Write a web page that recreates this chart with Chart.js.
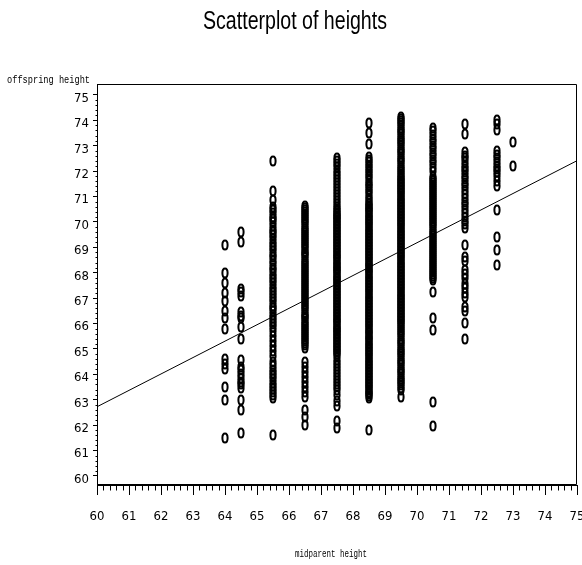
<!DOCTYPE html>
<html>
<head>
<meta charset="utf-8">
<title>Scatterplot of heights</title>
<script src="https://cdn.jsdelivr.net/npm/chart.js@4.4.1/dist/chart.umd.min.js"></script>
<style>
  html, body { margin: 0; padding: 0; background: #fff; }
  #chart { display: block; }
</style>
</head>
<body>
<canvas id="chart" width="582" height="565"></canvas>
<script>
// Midparent height levels (x) and the offspring heights (y) observed at each level.
const midparentLevels = [64, 64.5, 65.5, 66.5, 67.5, 68.5, 69.5, 70.5, 71.5, 72.5, 73];

const offspringAt64 = [69.1, 68.0, 67.6, 67.2, 66.9, 66.5, 66.2, 65.8, 64.6, 64.4, 64.2, 63.5, 63.0, 61.5];

const offspringAt64_5 = [69.6, 69.2, 67.35, 67.25, 67.1, 66.45, 66.3, 66.2, 65.85, 65.4, 64.55, 64.3, 64.15,
  64.0, 63.85, 63.7, 63.6, 63.45, 63.0, 62.6, 61.7];

const offspringAt65_5 = [72.4, 71.2, 70.85, 70.6, 70.48, 70.35, 70.2, 70.12, 69.98, 69.85, 69.7, 69.62, 69.5,
  69.36, 69.2, 69.1, 68.97, 68.85, 68.7, 68.6, 68.46, 68.33, 68.2, 68.1, 67.95, 67.82, 67.7, 67.6, 67.45,
  67.33, 67.2, 67.08, 66.97, 66.85, 66.7, 66.6, 66.48, 66.35, 66.2, 66.1, 65.96, 65.85, 65.7, 65.5, 65.3,
  65.1, 64.9, 64.7, 64.5, 64.32, 64.18, 64.05, 63.92, 63.8, 63.66, 63.55, 63.42, 63.3, 63.18, 63.05, 61.6];

const offspringAt66_5 = [70.62, 70.55, 70.46, 70.4, 70.31, 70.22, 70.15, 70.06, 69.98, 69.9, 69.81, 69.74,
  69.65, 69.57, 69.5, 69.41, 69.33, 69.25, 69.16, 69.08, 69.0, 68.92, 68.83, 68.76, 68.68, 68.6, 68.51,
  68.43, 68.35, 68.27, 68.2, 68.11, 68.03, 67.95, 67.87, 67.8, 67.71, 67.63, 67.55, 67.47, 67.4, 67.31,
  67.23, 67.15, 67.07, 67.0, 66.91, 66.83, 66.75, 66.67, 66.6, 66.52, 66.43, 66.35, 66.27, 66.2, 66.11,
  66.03, 65.95, 65.87, 65.8, 65.71, 65.63, 65.55, 65.47, 65.4, 65.31, 65.23, 65.15, 65.05,
  64.5, 64.3, 64.1, 63.9, 63.7, 63.5, 63.3, 63.1, 62.6, 62.3, 62.0];

const offspringAt67_5 = [72.52, 72.4, 72.28, 72.15, 72.0, 71.9, 71.78, 71.66, 71.52, 71.4, 71.3, 71.18,
  71.05, 70.94, 70.82, 70.7, 70.6, 70.5,
  70.43, 70.37, 70.31, 70.25, 70.2, 70.14, 70.08, 70.02, 69.96, 69.9, 69.84, 69.79, 69.73, 69.67, 69.61,
  69.55, 69.49, 69.43, 69.38, 69.32, 69.26, 69.2, 69.14, 69.08, 69.02, 68.97, 68.91, 68.85, 68.79, 68.73,
  68.67, 68.61, 68.56, 68.5, 68.44, 68.38, 68.32, 68.26, 68.2, 68.15, 68.09, 68.03, 67.97, 67.91, 67.85,
  67.79, 67.74, 67.68, 67.62, 67.56, 67.5, 67.44, 67.38, 67.33, 67.27, 67.21, 67.15, 67.09, 67.03, 66.97,
  66.92, 66.86, 66.8, 66.74, 66.68, 66.62, 66.56, 66.51, 66.45, 66.39, 66.33, 66.27, 66.21, 66.15, 66.1,
  66.04, 65.98, 65.92, 65.86, 65.8, 65.74, 65.69, 65.63, 65.57, 65.51, 65.45, 65.39, 65.33, 65.28, 65.22,
  65.16, 65.1, 65.04, 64.98, 64.92, 64.87, 64.81,
  64.7, 64.58, 64.45, 64.33, 64.2, 64.1, 63.97, 63.85, 63.72, 63.6, 63.5, 63.4,
  63.2, 62.95, 62.75, 62.15, 61.9];

const offspringAt68_5 = [73.9, 73.5, 73.08,
  72.55, 72.45, 72.36, 72.25, 72.15, 72.06, 71.95, 71.86, 71.75, 71.66, 71.55, 71.45, 71.36, 71.25, 71.16,
  71.05, 70.96, 70.86, 70.76,
  70.7, 70.64, 70.58, 70.52, 70.46, 70.41, 70.34, 70.28, 70.22, 70.17, 70.1, 70.04, 69.98, 69.93, 69.86,
  69.8, 69.74, 69.69, 69.62, 69.56, 69.5, 69.45, 69.38, 69.32, 69.26, 69.21, 69.14, 69.08, 69.02, 68.97,
  68.9, 68.84, 68.78, 68.73, 68.66, 68.6, 68.54, 68.49, 68.42, 68.36, 68.3, 68.25, 68.18, 68.12, 68.06,
  68.01, 67.94, 67.88, 67.82, 67.77, 67.7, 67.64, 67.58, 67.53, 67.46, 67.4, 67.34, 67.29, 67.22, 67.16,
  67.1, 67.05, 66.98, 66.92, 66.86, 66.81, 66.74, 66.68, 66.62, 66.57, 66.5, 66.44, 66.38, 66.33, 66.26,
  66.2, 66.14, 66.09, 66.02, 65.96, 65.9, 65.85, 65.78, 65.72, 65.66, 65.61, 65.54, 65.48, 65.42, 65.37,
  65.3, 65.24, 65.18, 65.13, 65.06, 65.0, 64.94, 64.89, 64.82, 64.76, 64.7, 64.65, 64.58, 64.52, 64.46,
  64.41, 64.34, 64.28, 64.22, 64.17, 64.1, 64.04, 63.98, 63.93, 63.86, 63.8, 63.74, 63.69, 63.62, 63.56,
  63.5, 63.45, 63.38, 63.32, 63.26, 63.21, 63.14, 63.08,
  61.8];

const offspringAt69_5 = [74.15, 74.06, 73.97, 73.88, 73.8, 73.71, 73.62, 73.53, 73.45, 73.36, 73.27, 73.18,
  73.1, 73.01, 72.92, 72.83, 72.75, 72.66, 72.57, 72.48, 72.4, 72.31, 72.22, 72.13, 72.05, 71.96, 71.87,
  71.8, 71.74, 71.68, 71.62, 71.56, 71.5, 71.44, 71.38, 71.32, 71.26, 71.2, 71.14, 71.08, 71.02, 70.96,
  70.9, 70.84, 70.78, 70.72, 70.66, 70.6, 70.54, 70.48, 70.42, 70.36, 70.3, 70.24, 70.18, 70.12, 70.06,
  70.0, 69.94, 69.88, 69.82, 69.76, 69.7, 69.64, 69.58, 69.52, 69.46, 69.4, 69.34, 69.28, 69.22, 69.16,
  69.1, 69.04, 68.98, 68.92, 68.86, 68.8, 68.74, 68.68, 68.62, 68.56, 68.5, 68.44, 68.38, 68.32, 68.26,
  68.2, 68.14, 68.08, 68.02, 67.96, 67.9, 67.84, 67.78, 67.72, 67.66, 67.6, 67.54, 67.48, 67.42, 67.36,
  67.3, 67.24, 67.18, 67.12, 67.06, 67.0, 66.94, 66.88, 66.82, 66.76, 66.7, 66.64, 66.58, 66.52, 66.46,
  66.4, 66.34, 66.28, 66.22, 66.16, 66.1, 66.04, 65.98, 65.92,
  65.84, 65.75, 65.66, 65.57, 65.49, 65.4, 65.31, 65.22, 65.14, 65.05, 64.96, 64.87, 64.79, 64.7, 64.61,
  64.52, 64.44, 64.35, 64.26, 64.17, 64.09, 64.0, 63.91, 63.82, 63.74, 63.65, 63.56, 63.47, 63.4,
  63.1];

const offspringAt70_5 = [73.7, 73.56, 73.42, 73.28, 73.14, 73.0, 72.86, 72.72, 72.58, 72.44, 72.3, 72.16, 72.02,
  71.78, 71.7, 71.62, 71.54, 71.46, 71.38, 71.3, 71.22, 71.14, 71.06, 70.98, 70.9, 70.82, 70.74, 70.66,
  70.58, 70.5, 70.42, 70.34, 70.26, 70.18, 70.1, 70.02, 69.94, 69.86, 69.78, 69.7, 69.62, 69.54, 69.46,
  69.38, 69.3, 69.22, 69.14, 69.06, 68.98, 68.9, 68.82, 68.74, 68.66, 68.58, 68.5, 68.42, 68.34, 68.26,
  68.18, 68.1, 68.02, 67.94, 67.86, 67.78, 67.7,
  67.25, 66.2, 65.75, 62.9, 61.95];

const offspringAt71_5 = [73.85, 73.45,
  72.75, 72.6, 72.5, 72.35, 72.2, 72.1, 71.95, 71.8, 71.7, 71.55, 71.4, 71.25, 71.1, 70.95, 70.8, 70.65,
  70.5, 70.35, 70.2, 70.05, 69.9, 69.75,
  69.1,
  68.6, 68.45, 68.1, 67.95, 67.8, 67.55, 67.4, 67.2, 67.05, 66.65, 66.5,
  66.0, 65.4];

const offspringAt72_5 = [74.0, 73.85, 73.6, 72.8, 72.65, 72.5, 72.35, 72.2, 72.1, 71.95, 71.8, 71.6, 71.4,
  70.45, 69.4, 68.9, 68.3];

const offspringAt73 = [73.15, 72.2];

// Least-squares fit of offspring height on midparent height, given at the axis ends.
const fitLineX = [60, 75];
const fitLineY = [62.72, 72.41];

// Axis tick values.
const xTickValues = [60, 61, 62, 63, 64, 65, 66, 67, 68, 69, 70, 71, 72, 73, 74, 75];
const yTickValues = [60, 61, 62, 63, 64, 65, 66, 67, 68, 69, 70, 71, 72, 73, 74, 75];

const offspringColumns = [offspringAt64, offspringAt64_5, offspringAt65_5, offspringAt66_5, offspringAt67_5,
  offspringAt68_5, offspringAt69_5, offspringAt70_5, offspringAt71_5, offspringAt72_5, offspringAt73];

// Hollow oval marker, like a plotted letter "O".
function makeOvalMarker() {
  const c = document.createElement('canvas');
  c.width = 10; c.height = 14;
  const g = c.getContext('2d');
  g.strokeStyle = '#000';
  g.lineWidth = 2;
  g.beginPath();
  g.ellipse(5, 7, 2.6, 4.5, 0, 0, Math.PI * 2);
  g.stroke();
  return c;
}
const ovalMarker = makeOvalMarker();

const points = [];
midparentLevels.forEach((x, i) => {
  offspringColumns[i].forEach(y => points.push({ x: x, y: y }));
});

const TICK_FONT = { family: '"Liberation Sans Narrow", "DejaVu Sans Condensed", "Liberation Sans", sans-serif', size: 13 };

// Markers are stamped without resampling so they stay crisp.
const crispMarkers = {
  id: 'crispMarkers',
  beforeDatasetsDraw(chart) { chart.ctx.save(); chart.ctx.imageSmoothingEnabled = false; },
  afterDatasetsDraw(chart) { chart.ctx.restore(); }
};

// Frame, minor ticks, title and axis captions.
const decorations = {
  id: 'decorations',
  afterDraw(chart) {
    const ctx = chart.ctx;
    const a = chart.chartArea;
    const xs = chart.scales.x, ys = chart.scales.y;
    ctx.save();
    ctx.strokeStyle = '#000';
    ctx.lineWidth = 1;
    // plot frame
    const L = Math.round(a.left) + 0.5, R = Math.round(a.right) - 0.5;
    const T = Math.round(a.top) + 0.5, B = Math.round(a.bottom) - 0.5;
    ctx.beginPath();
    ctx.moveTo(L, B); ctx.lineTo(L, T); ctx.lineTo(R, T); ctx.lineTo(R, B); ctx.lineTo(L, B);
    ctx.stroke();
    // minor ticks: four between each labelled value
    ctx.beginPath();
    for (let i = 0; i <= 75; i++) {
      if (i % 5 === 0) continue;
      const v = 60 + i / 5;
      const px = Math.round(xs.getPixelForValue(v)) + 0.5;
      ctx.moveTo(px, B); ctx.lineTo(px, B + 6);
      const py = Math.round(ys.getPixelForValue(v)) + 0.5;
      if (py > a.top && py < a.bottom) { ctx.moveTo(L, py); ctx.lineTo(L - 2, py); }
    }
    ctx.stroke();

    ctx.fillStyle = '#000';
    // title, set in a narrow face
    ctx.font = '25px "Liberation Sans Narrow", "Liberation Sans", Arial, sans-serif';
    ctx.textBaseline = 'alphabetic';
    ctx.textAlign = 'left';
    const title = 'Scatterplot of heights';
    let w = ctx.measureText(title).width;
    ctx.save();
    ctx.translate(203, 29);
    ctx.scale(184 / w, 1);
    ctx.fillText(title, 0, 0);
    ctx.restore();

    // axis captions in a typewriter face
    ctx.font = '11px "Liberation Mono", "DejaVu Sans Mono", monospace';
    const yCap = 'offspring height';
    w = ctx.measureText(yCap).width;
    ctx.save();
    ctx.translate(7, 83);
    ctx.scale(83 / w, 1);
    ctx.fillText(yCap, 0, 0);
    ctx.restore();

    ctx.font = '10px "Liberation Mono", "DejaVu Sans Mono", monospace';
    const xCap = 'midparent height';
    w = ctx.measureText(xCap).width;
    ctx.save();
    ctx.translate(295, 557);
    ctx.scale(72 / w, 1);
    ctx.fillText(xCap, 0, 0);
    ctx.restore();
    ctx.restore();
  }
};

new Chart(document.getElementById('chart'), {
  type: 'scatter',
  data: {
    datasets: [
      {
        data: points,
        pointStyle: ovalMarker,
        pointRadius: 3,
        pointHoverRadius: 3,
        showLine: false
      },
      {
        data: fitLineX.map((x, i) => ({ x: x, y: fitLineY[i] })),
        showLine: true,
        borderColor: '#000',
        borderWidth: 1,
        pointRadius: 0,
        fill: false
      }
    ]
  },
  options: {
    responsive: false,
    animation: false,
    devicePixelRatio: 1,
    layout: { padding: { top: 84, right: 5, left: 0, bottom: 0 } },
    plugins: {
      legend: { display: false },
      tooltip: { enabled: false },
      title: { display: false }
    },
    scales: {
      x: {
        type: 'linear',
        min: 60,
        max: 75,
        afterBuildTicks: s => { s.ticks = xTickValues.map(v => ({ value: v })); },
        afterFit: s => { s.height = 80; s.paddingLeft = 0; s.paddingRight = 0; },
        grid: { drawOnChartArea: false, drawTicks: true, tickLength: 10, color: '#000', lineWidth: 1 },
        border: { display: true, color: '#000', width: 1 },
        ticks: { color: '#000', font: TICK_FONT, padding: 14, maxRotation: 0, autoSkip: false }
      },
      y: {
        type: 'linear',
        min: 59.64,
        max: 75.43,
        afterBuildTicks: s => { s.ticks = yTickValues.map(v => ({ value: v })); },
        afterFit: s => { s.width = 97; s.paddingTop = 0; s.paddingBottom = 0; },
        grid: { drawOnChartArea: false, drawTicks: true, tickLength: 4, color: '#000', lineWidth: 1 },
        border: { display: true, color: '#000', width: 1 },
        ticks: { color: '#000', font: TICK_FONT, padding: 4, labelOffset: 3.5, autoSkip: false }
      }
    }
  },
  plugins: [crispMarkers, decorations]
});
</script>
</body>
</html>
